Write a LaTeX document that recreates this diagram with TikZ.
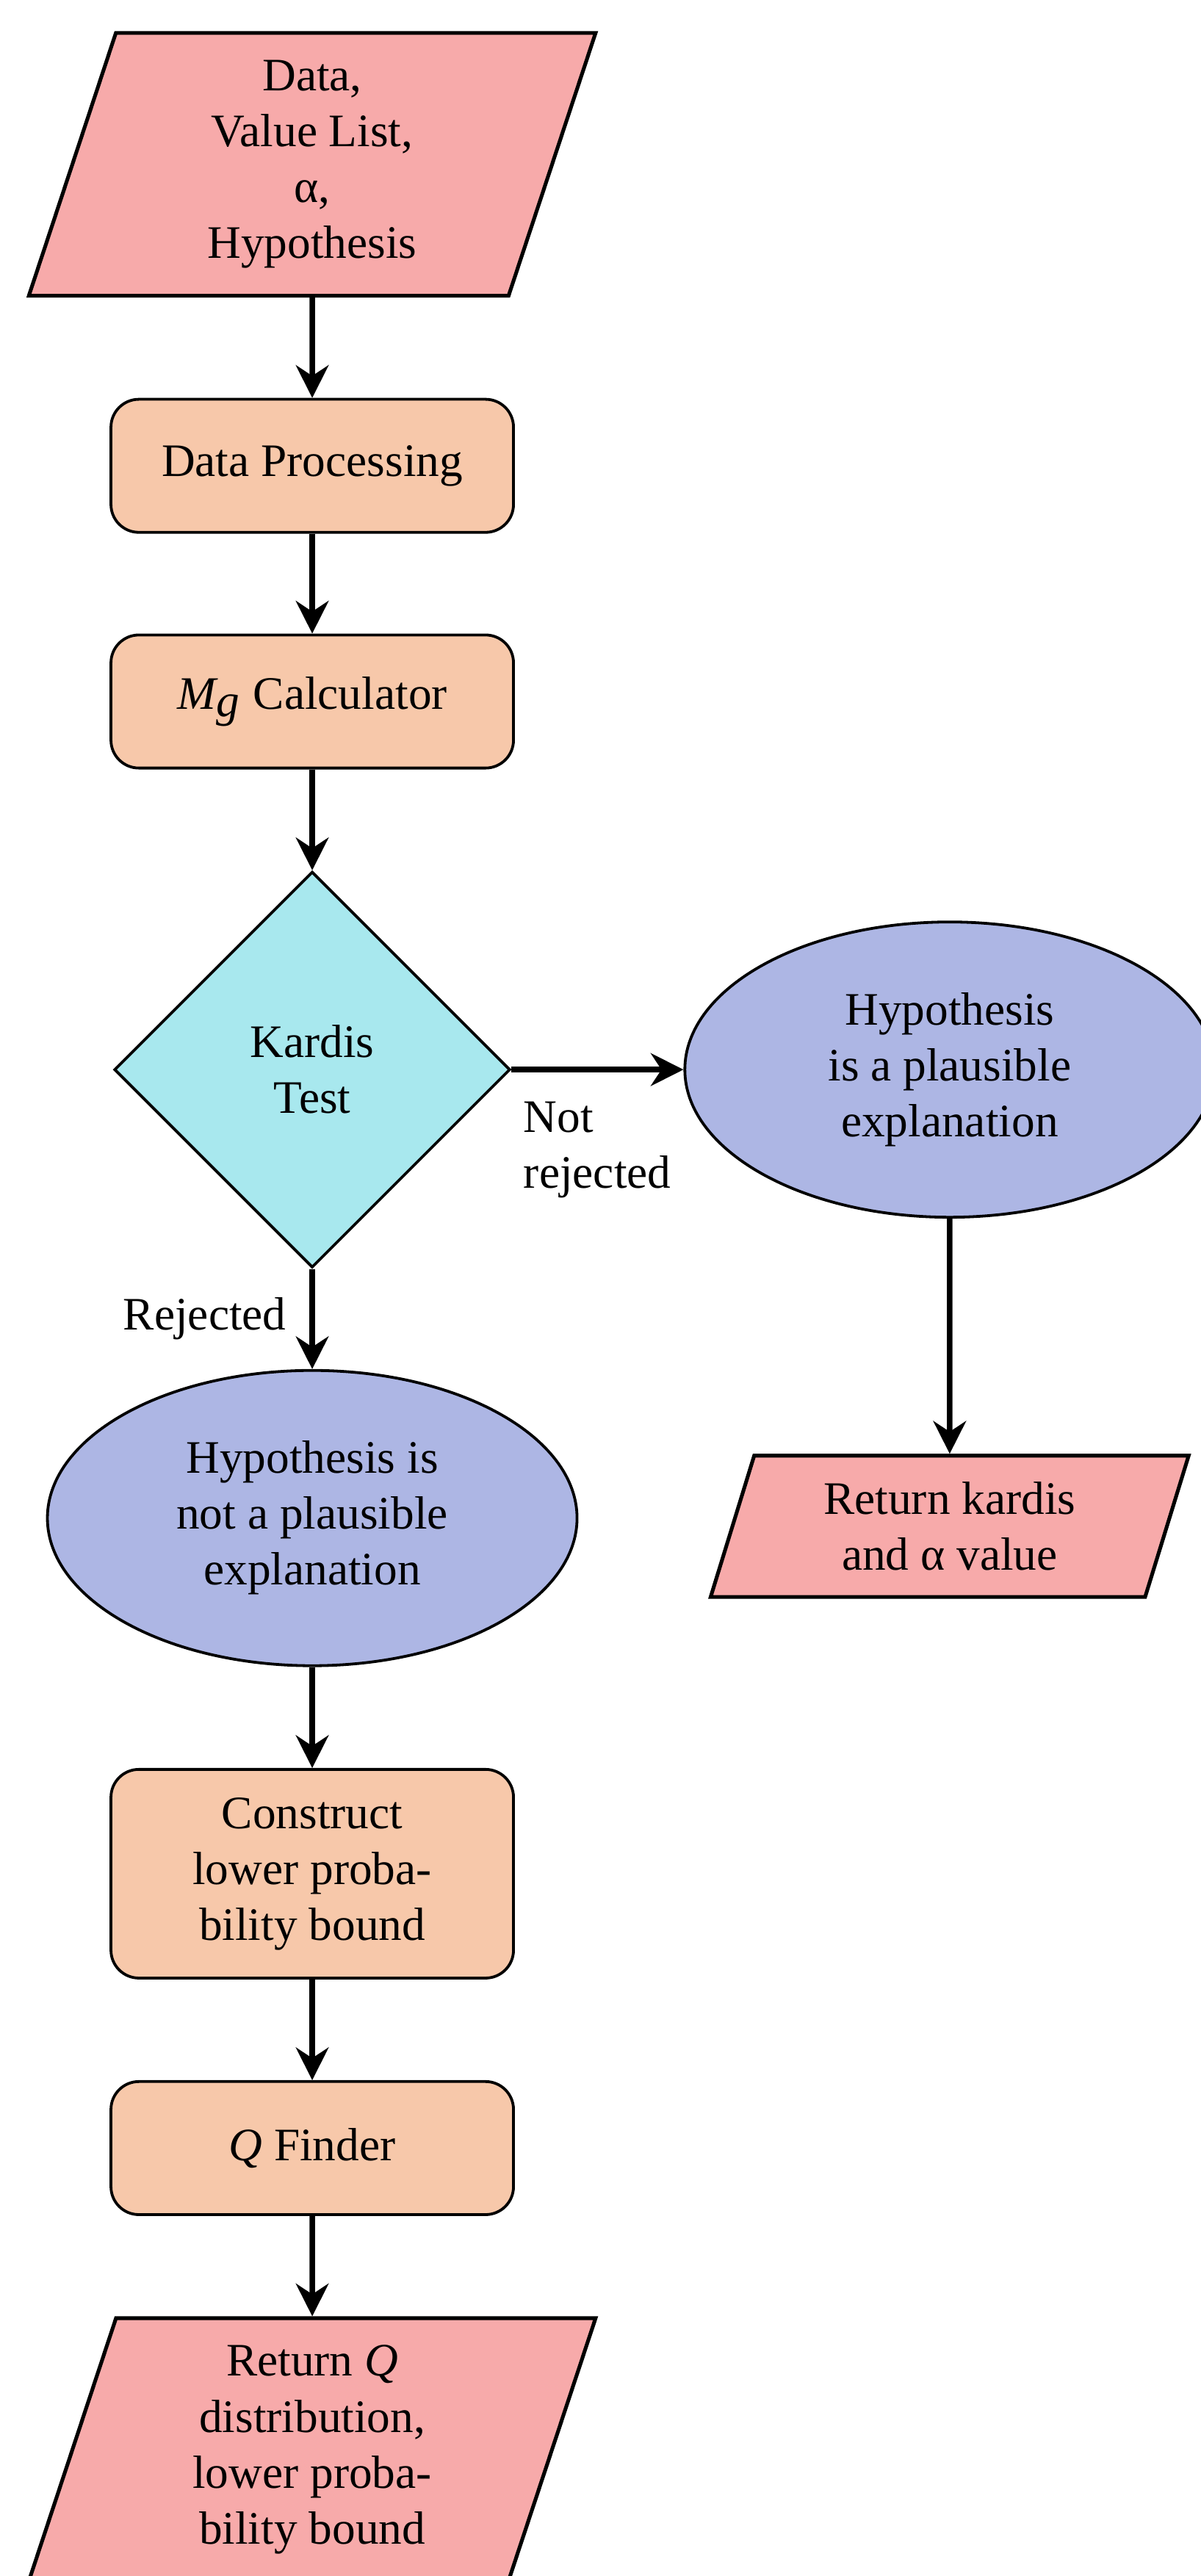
\documentclass[tikz,border=0pt]{standalone}
\usepackage{fontspec}
\setmainfont{Liberation Serif}
\usetikzlibrary{shapes.geometric, arrows.meta}

\definecolor{iopink}{RGB}{247,170,170}
\definecolor{procpeach}{RGB}{247,200,170}
\definecolor{testcyan}{RGB}{168,232,238}
\definecolor{endlav}{RGB}{173,182,228}

\begin{document}
\begin{tikzpicture}[
    io/.style = {trapezium, trapezium left angle = 70, trapezium right angle = 110,
      trapezium stretches body, draw, thick, fill = iopink, align = center},
    process/.style = {rectangle, rounded corners = 6pt, draw, semithick, fill = procpeach,
      minimum width = 3.04cm, align = center},
    decision/.style = {diamond, draw, semithick, fill = testcyan, aspect = 1,
      minimum width = 2.99cm, minimum height = 2.99cm, align = center},
    verdict/.style = {ellipse, draw, semithick, fill = endlav, minimum width = 4cm,
      minimum height = 2.23cm, align = center},
    link/.style = {-{Stealth[length = 7pt, width = 7pt]}, very thick}
  ]
        % page frame
        \clip (0,0) rectangle (9.07,-19.455);

        % draws the main column
        \node[io, minimum width = 4.28cm, minimum height = 1.985cm] (in) at (2.358,-1.241)
          {Data,\\Value List,\\α,\\Hypothesis};
        \node[process, minimum height = 1.005cm] (proc) at (2.358,-3.518) {Data Processing};
        \node[process, minimum height = 1.005cm] (mg) at (2.358,-5.298)
          {$\textit{M}_{\textit{g}}$ Calculator};
        \node[decision] (test) at (2.358,-8.078) {Kardis\\Test};
        \node[verdict] (notpl) at (2.358,-11.465)
          {Hypothesis is\\not a plausible\\explanation};
        \node[process, minimum height = 1.576cm] (cons) at (2.358,-14.151)
          {Construct\\lower proba-\\bility bound};
        \node[process, minimum height = 1.005cm] (qf) at (2.358,-16.223) {\textit{Q} Finder};
        \node[io, minimum width = 4.28cm, minimum height = 1.985cm] (out) at (2.358,-18.5)
          {Return \textit{Q}\\distribution,\\lower proba-\\bility bound};

        % draws the right column
        \node[verdict] (plaus) at (7.172,-8.078)
          {Hypothesis\\is a plausible\\explanation};
        \node[io, minimum width = 3.61cm, minimum height = 1.067cm] (retk) at (7.172,-11.527)
          {Return kardis\\and α value};

        % draws the arrows
        \foreach \a/\b in {in/proc, proc/mg, mg/test, notpl/cons, cons/qf, qf/out, plaus/retk}
          \draw[link] (\a) -- (\b);

        \draw[link] (test.east) -- (plaus.west)
          node[pos = 0, below right, align = left, inner sep = 2pt, yshift = -0.15cm] (nrej)
          {Not\\rejected};
        \draw[link] (test.south) -- (notpl.north)
          node[midway, left, inner sep = 5pt] (rej) {Rejected};
      \end{tikzpicture}
\end{document}
